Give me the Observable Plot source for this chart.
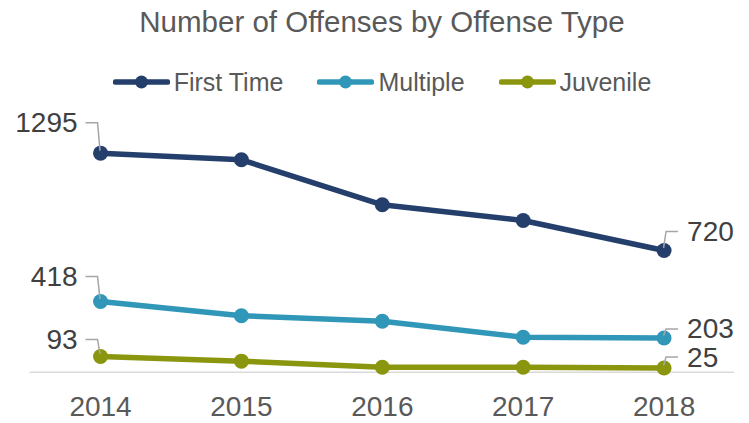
<!DOCTYPE html>
<html>
<head>
<meta charset="utf-8">
<script src="https://cdn.jsdelivr.net/npm/d3@7"></script>
<script src="https://cdn.jsdelivr.net/npm/@observablehq/plot@0.6"></script>
<style>
  body { margin: 0; background: #fff; font-family: "Liberation Sans", Arial, sans-serif; }
  #wrap { width: 749px; height: 423px; overflow: hidden; }
  #title { height: 46px; margin-left: 30px; width: 704px; text-align: center; font-size: 29.5px; color: #595959; line-height: 44px; }
  #legend { height: 54px; margin-left: 30px; width: 704px; display: flex; justify-content: center; align-items: center; gap: 34px; font-size: 25px; color: #595959; padding-top: 18px; box-sizing: border-box; }
  .item { display: flex; align-items: center; gap: 4px; }
  .item svg { display: block; }
</style>
</head>
<body>
<div id="wrap">
  <div id="title">Number of Offenses by Offense Type</div>
  <div id="legend"></div>
  <div id="chart"></div>
</div>
<script>
const years = [2014, 2015, 2016, 2017, 2018];
const seriesNames = ["First Time", "Multiple", "Juvenile"];
const firstTime = [1295, 1256, 990, 897, 720];
const multiple = [418, 334, 302, 207, 203];
const juvenile = [93, 66, 30, 30, 25];
const seriesColors = ["#253f6c", "#3197b8", "#8a960e"];

const valuesBySeries = {"First Time": firstTime, "Multiple": multiple, "Juvenile": juvenile};
const data = seriesNames.flatMap(s => years.map((yr, i) => ({series: s, year: yr, value: valuesBySeries[s][i]})));

// label placement (pixel offsets of the callout from the point)
const labelLayout = [
  {series: "First Time", end: "first", dy: -30},
  {series: "Multiple", end: "first", dy: -24.5},
  {series: "Juvenile", end: "first", dy: -16.5},
  {series: "First Time", end: "last", dy: -18.5},
  {series: "Multiple", end: "last", dy: -8.5},
  {series: "Juvenile", end: "last", dy: -10.5}
];
const labels = labelLayout.map(l => {
  const i = l.end === "first" ? 0 : years.length - 1;
  return {...l, year: years[i], value: valuesBySeries[l.series][i]};
});

// legend
const legend = d3.select("#legend");
seriesNames.forEach((s, i) => {
  const it = legend.append("div").attr("class", "item");
  const sv = it.append("svg").attr("width", 57).attr("height", 16);
  sv.append("line").attr("x1", 2.5).attr("x2", 54.5).attr("y1", 8).attr("y2", 8)
    .attr("stroke", seriesColors[i]).attr("stroke-width", 5.5).attr("stroke-linecap", "round");
  sv.append("circle").attr("cx", 28.5).attr("cy", 8).attr("r", 6.5).attr("fill", seriesColors[i]);
  it.append("span").text(s);
});

const leaders = (index, scales) => {
  const g = d3.create("svg:g").attr("fill", "none").attr("stroke", "#a6a6a6").attr("stroke-width", 1.5);
  labels.forEach(l => {
    const x = scales.x(l.year), y = scales.y(l.value);
    const sgn = l.end === "first" ? -1 : 1;
    const pts = [[x + sgn * 14.5, y + l.dy], [x + sgn * 2.5, y + l.dy], [x, y - 2]];
    g.append("path").attr("d", d3.line()(pts));
  });
  return g.node();
};

const chart = Plot.plot({
  width: 749,
  height: 323,
  marginLeft: 29.6,
  marginRight: 15,
  marginTop: 34.9,
  marginBottom: 51.2,
  style: {fontFamily: "'Liberation Sans', Arial, sans-serif", fontSize: "28px", color: "#595959", background: "transparent", overflow: "visible"},
  x: {type: "linear", domain: [2013.5, 2018.5], ticks: years, tickFormat: "d", tickSize: 0, tickPadding: 24, label: null},
  y: {domain: [0, 1400], axis: null},
  color: {domain: seriesNames, range: seriesColors},
  marks: [
    Plot.ruleY([0], {stroke: "#d9d9d9", strokeWidth: 1.5}),
    Plot.line(data, {x: "year", y: "value", stroke: "series", strokeWidth: 5.5}),
    Plot.dot(data, {x: "year", y: "value", fill: "series", r: 7.5}),
    leaders,
    ...labels.map(l => Plot.text([l], {
      x: "year", y: "value", text: d => String(d.value),
      textAnchor: l.end === "first" ? "end" : "start",
      dx: l.end === "first" ? -23 : 23, dy: l.dy,
      fill: "#404040", fontSize: 28
    }))
  ]
});
document.getElementById("chart").appendChild(chart);
</script>
</body>
</html>
